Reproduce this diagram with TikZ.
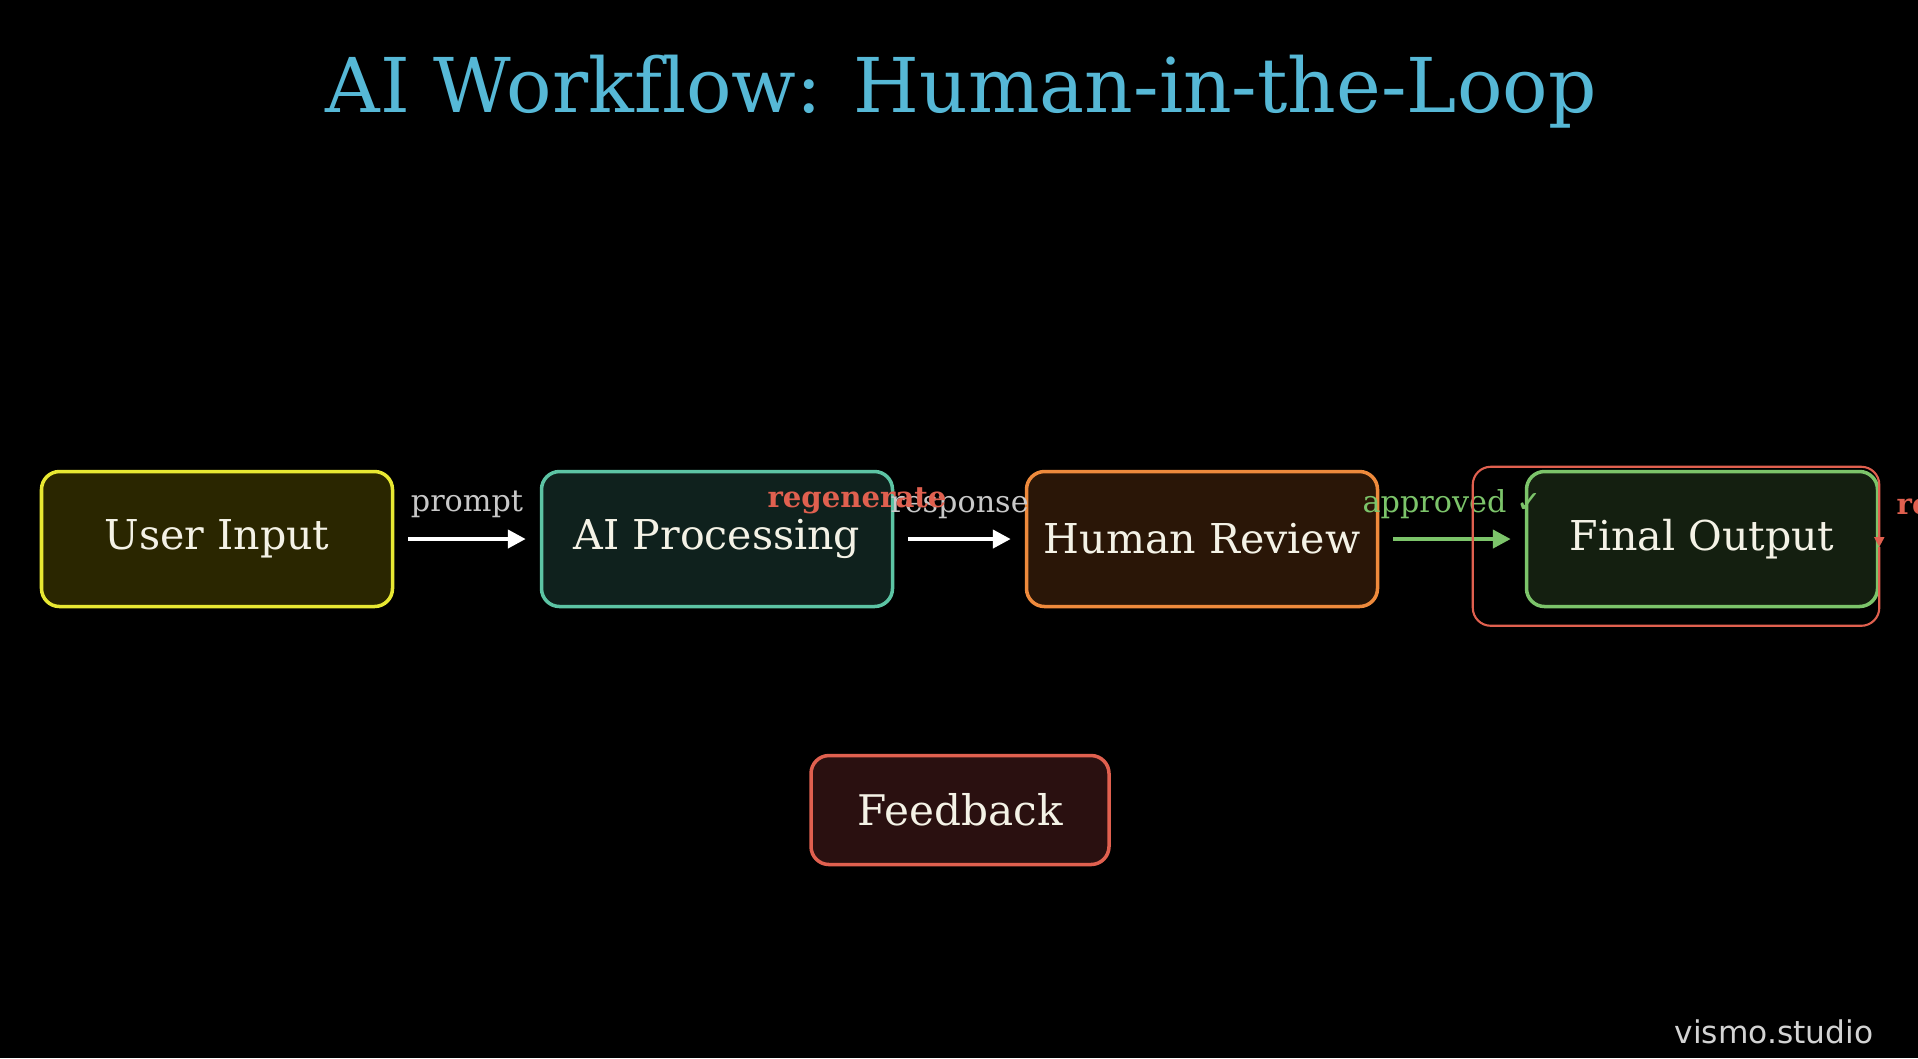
\documentclass[tikz,border=0pt]{standalone}
\usepackage{fontspec}
\setmainfont{DejaVu Serif}[Ligatures=NoCommon]
\newfontfamily\wmfont{DejaVu Sans}
\usepackage{xcolor}
\usepackage{tikz}
\usetikzlibrary{backgrounds,arrows.meta}
\definecolor{hlTitle}{HTML}{56B8D6}
\definecolor{hlText}{HTML}{F4F2E6}
\definecolor{hlGrey}{HTML}{C8C8C8}
\definecolor{hlYellow}{HTML}{E8E832}
\definecolor{hlYellowBg}{HTML}{2A2600}
\definecolor{hlTeal}{HTML}{5CC4A4}
\definecolor{hlTealBg}{HTML}{0F211D}
\definecolor{hlOrange}{HTML}{EE8A3C}
\definecolor{hlOrangeBg}{HTML}{2A1607}
\definecolor{hlGreen}{HTML}{7CC46A}
\definecolor{hlGreenBg}{HTML}{141F10}
\definecolor{hlRed}{HTML}{E0604F}
\definecolor{hlRedBg}{HTML}{2A1010}
\newcommand{\tick}{{\wmfont ✓}}

\begin{document}
\begin{tikzpicture}[
  font=\fontsize{11.7}{14}\selectfont,
  stage/.style={rounded corners=0.18cm, line width=1pt, text=hlText, align=center,
                minimum width=3.51cm, minimum height=1.35cm, inner sep=0pt},
  flow/.style={-{Triangle[length=1.8mm,width=1.8mm]}, line width=1.2pt,
               shorten <=0.14cm, shorten >=0.14cm},
  elabel/.style={font=\fontsize{8.6}{10}\selectfont, inner sep=0pt},
  rloop/.style={-{Triangle[length=1mm,width=1mm]}, draw=hlRed, line width=0.6pt, rounded corners=0.18cm},
]
\useasboundingbox (0,0) rectangle (19.18,-10.58);

% ── Title ─────────────────────────────────────────────────────────────────────
\node[text=hlTitle, font=\fontsize{21.5}{26}\selectfont, anchor=base] (title) at (9.61,-1.12)
  {AI Workflow: Human-in-the-Loop};

% ── Pipeline stages (one row) + feedback below ───────────────────────────────
\node[stage, draw=hlYellow, fill=hlYellowBg] (uin)  at ( 2.17,-5.39) {User Input};
\node[stage, draw=hlTeal,   fill=hlTealBg]   (aip)  at ( 7.17,-5.39) {AI Processing};
\node[stage, draw=hlOrange, fill=hlOrangeBg] (hrev) at (12.02,-5.39) {Human Review};
\node[stage, draw=hlGreen,  fill=hlGreenBg]  (fout) at (17.02,-5.39) {Final Output};
\node[stage, draw=hlRed, fill=hlRedBg, font=\fontsize{12}{14}\selectfont,
      minimum width=2.98cm, minimum height=1.09cm] (fb) at (9.60,-8.10) {Feedback};

% ── Connectors ───────────────────────────────────────────────────────────────
\draw[flow, white] (uin) -- node[elabel, text=hlGrey, yshift=0.35cm] (lprompt) {prompt} (aip);
\draw[flow, white] (aip) -- node[elabel, text=hlGrey, yshift=0.31cm] (lresp) {response} (hrev);
\draw[flow, hlGreen] (hrev) -- node[elabel, text=hlGreen, yshift=0.35cm] (lok) {approved \tick} (fout);

% loop round the final output
\draw[rloop] ([yshift=-0.08cm]fout.east) |- ([xshift=-0.52cm,yshift=-0.175cm]fout.south west)
  |- ([yshift=0.03cm]fout.north east) -- ([yshift=-0.08cm]fout.east);

\node[elabel, text=hlRed, font=\fontsize{8.3}{10}\selectfont\bfseries] (lregen) at (8.57,-5.01) {regenerate};
\node[elabel, text=hlRed, font=\fontsize{8.3}{10}\selectfont\bfseries, anchor=west] (lre) at (18.96,-5.07) {re};

% ── Watermark ────────────────────────────────────────────────────────────────
\node[text=hlGrey!80!white, font=\wmfont\fontsize{8.9}{10}\selectfont, anchor=base east, inner sep=0pt] (wm)
  at (18.74,-10.43) {vismo.studio};

\begin{scope}[on background layer]
  \fill[black] (0,0) rectangle (19.18,-10.58);
\end{scope}

\end{tikzpicture}
\end{document}
